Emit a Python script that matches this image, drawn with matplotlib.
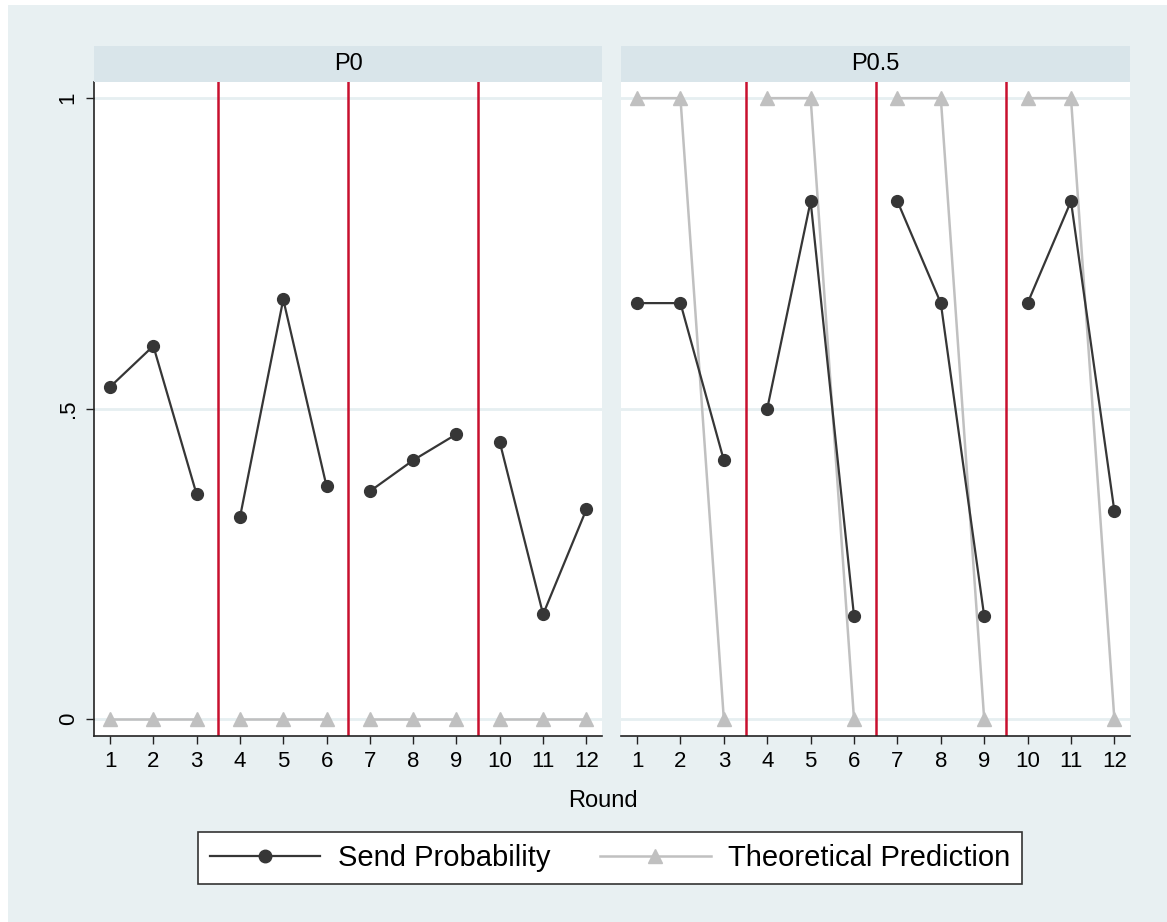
import numpy as np
import matplotlib.pyplot as plt
from matplotlib.patches import Rectangle
from matplotlib.lines import Line2D

plt.rcParams['font.family'] = ['Liberation Sans', 'DejaVu Sans']

# dades
rounds = np.arange(1, 13)
panels = ['P0', 'P0.5']
send_p0 = [0.535, 0.601, 0.362, 0.325, 0.676, 0.375, 0.367, 0.417, 0.459, 0.446, 0.169, 0.338]
send_p05 = [0.670, 0.670, 0.417, 0.500, 0.834, 0.166, 0.834, 0.670, 0.166, 0.670, 0.834, 0.335]
theory_p0 = [0, 0, 0, 0, 0, 0, 0, 0, 0, 0, 0, 0]
theory_p05 = [1, 1, 0, 1, 1, 0, 1, 1, 0, 1, 1, 0]
breaks = [3.5, 6.5, 9.5]
yticks = [0, 0.5, 1]
ytick_labels = ['0', '.5', '1']

W, H = 1167, 922
BG = '#e8f0f2'
STRIP = '#d9e5ea'
GRID = '#e6eff1'
DARK = '#363636'
LIGHT = '#c0c0c0'
RED = '#c8102e'

fig = plt.figure(figsize=(W / 100, H / 100), dpi=100, facecolor='white')
fig.patches.append(Rectangle((8 / W, 0), 1 - 8 / W, 1 - 5 / H, transform=fig.transFigure,
                             facecolor=BG, edgecolor='none', zorder=-10))

def fx(px):
    return px / W

def fy(py):
    return 1 - py / H

boxes = [(94, 602), (621, 1130)]
top, bottom, strip_top = 82, 736, 46

for i, (name, send, theo) in enumerate(zip(panels, [send_p0, send_p05], [theory_p0, theory_p05])):
    x0, x1 = boxes[i]
    ax = fig.add_axes([fx(x0), fy(bottom), fx(x1 - x0), (bottom - top) / H])
    ax.set_facecolor('white')
    for y in yticks:
        ax.axhline(y, color=GRID, lw=2, zorder=0)
    for b in breaks:
        ax.axvline(b, color=RED, lw=1.8, zorder=1)
    # segments per grup de 3 rondes
    for g in range(4):
        sl = slice(3 * g, 3 * g + 3)
        ax.plot(rounds[sl], theo[sl], color=LIGHT, lw=1.8, marker='^', ms=10,
                markeredgecolor=LIGHT, zorder=2)
        ax.plot(rounds[sl], send[sl], color=DARK, lw=1.6, marker='o', ms=8.5,
                markeredgecolor=DARK, zorder=3)
    ax.set_xlim(0.63, 12.36)
    ax.set_ylim(-0.027, 1.026)
    ax.set_xticks(rounds)
    ax.tick_params(axis='x', length=6, width=1, labelsize=16, pad=5, color='#222222')
    ax.set_yticks(yticks)
    for s in ['top', 'right']:
        ax.spines[s].set_visible(False)
    ax.spines['bottom'].set_color('#222222')
    ax.spines['bottom'].set_linewidth(1.2)
    if i == 0:
        ax.set_yticklabels(ytick_labels, rotation=90, va='center')
        ax.tick_params(axis='y', length=6, width=1, labelsize=16, pad=5, color='#222222')
        ax.spines['left'].set_color('#222222')
        ax.spines['left'].set_linewidth(1.2)
    else:
        ax.spines['left'].set_visible(False)
        ax.tick_params(axis='y', length=0, labelleft=False)

    sax = fig.add_axes([fx(x0), fy(top), fx(x1 - x0), (top - strip_top) / H])
    sax.set_facecolor(STRIP)
    sax.set_xticks([])
    sax.set_yticks([])
    for s in sax.spines.values():
        s.set_visible(False)
    sax.text(0.5, 0.5, name, ha='center', va='center', fontsize=17, transform=sax.transAxes)

fig.text(fx(603), fy(801), 'Round', ha='center', va='center', fontsize=17)

handles = [
    Line2D([], [], color=DARK, lw=1.6, marker='o', ms=9),
    Line2D([], [], color=LIGHT, lw=1.8, marker='^', ms=10),
]
leg = fig.legend(handles, ['Send Probability', 'Theoretical Prediction'], loc='center',
                 bbox_to_anchor=(fx(610), fy(858)),
                 ncol=2, fontsize=21, frameon=True, fancybox=False, framealpha=1,
                 facecolor='white', edgecolor='#333333', handlelength=3.8,
                 borderpad=0.4, handletextpad=0.6, columnspacing=1.7, borderaxespad=0)
leg.get_frame().set_linewidth(1.2)

plt.savefig('out.png', dpi=100, facecolor=fig.get_facecolor())
